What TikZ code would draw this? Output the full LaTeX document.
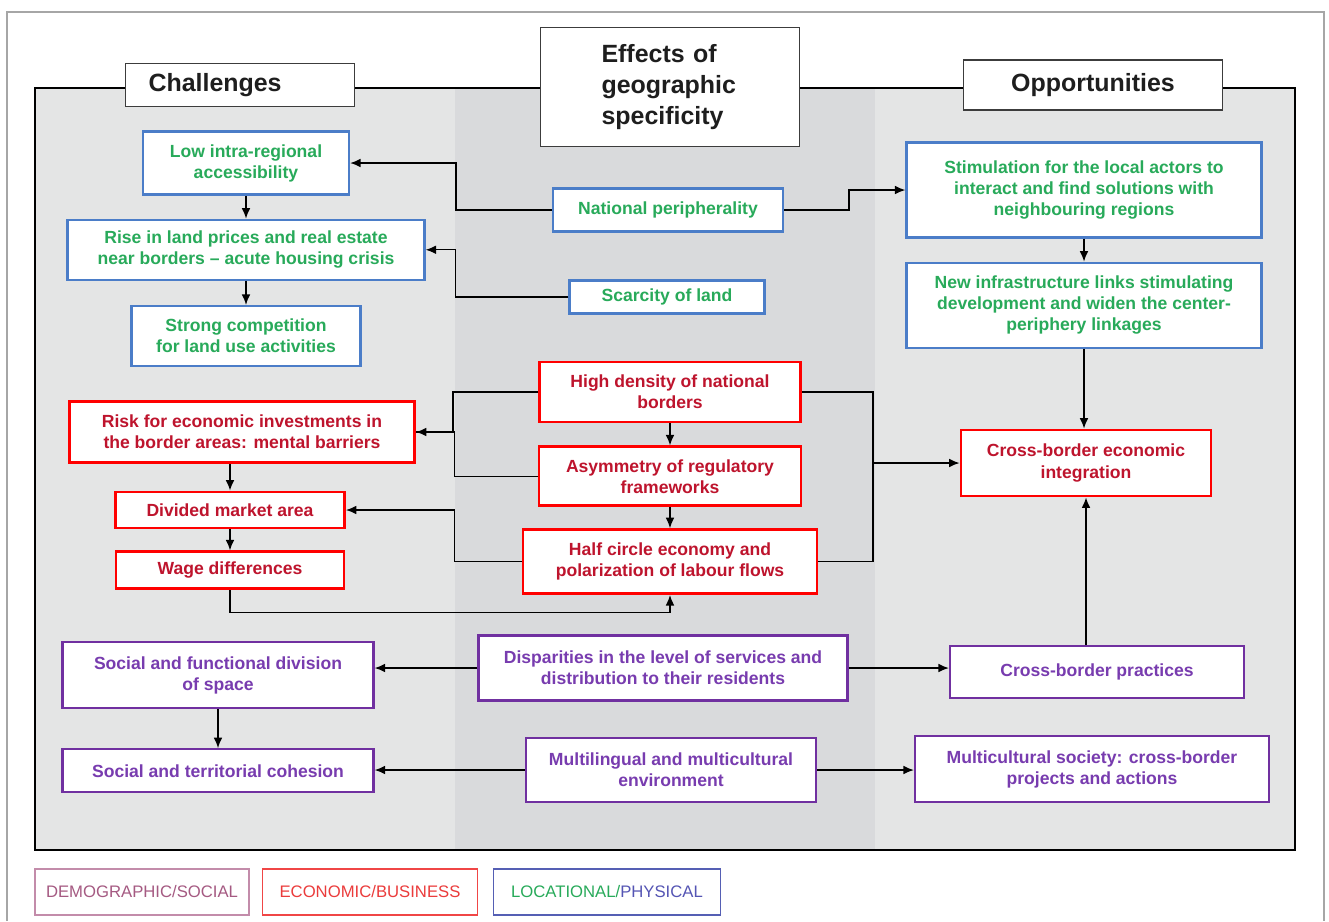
\documentclass[tikz,border=0pt]{standalone}
\usepackage{fontspec}
\setmainfont{Liberation Sans}
\usetikzlibrary{shapes,arrows.meta,positioning}
\definecolor{panel}{RGB}{228,229,229}
\definecolor{band}{RGB}{217,218,220}
\definecolor{hdrline}{RGB}{60,60,60}
\definecolor{hdrtext}{RGB}{30,30,30}
\definecolor{locline}{RGB}{75,125,200}
\definecolor{loctext}{RGB}{40,170,90}
\definecolor{ecoline}{RGB}{255,0,0}
\definecolor{ecotext}{RGB}{190,20,45}
\definecolor{demline}{RGB}{112,48,160}
\definecolor{demtext}{RGB}{120,60,175}
\definecolor{legdemline}{RGB}{195,140,170}
\definecolor{legdemtext}{RGB}{165,90,130}
\definecolor{legecoline}{RGB}{240,70,70}
\definecolor{legecotext}{RGB}{235,60,60}
\definecolor{leglocline}{RGB}{85,95,180}
\definecolor{legphys}{RGB}{85,85,180}
\newcommand{\boxfont}{\bfseries\fontsize{10}{12}\selectfont}
\tikzstyle{hdr}=[rectangle,draw=hdrline,line width=0.8pt,fill=white,text=hdrtext,font=\bfseries\fontsize{14.2}{17.6}\selectfont]
\tikzstyle{loc}=[rectangle,draw=locline,line width=1.3pt,fill=white,text=loctext,align=center,font=\boxfont]
\tikzstyle{eco}=[rectangle,draw=ecoline,line width=1.6pt,fill=white,text=ecotext,align=center,font=\boxfont]
\tikzstyle{dem}=[rectangle,draw=demline,line width=1.3pt,fill=white,text=demtext,align=center,font=\boxfont]
\tikzstyle{legbox}=[rectangle,line width=1pt,fill=white,minimum height=0.92cm,font=\fontsize{9.5}{11}\selectfont]
\tikzstyle{arr}=[-{Latex[length=6pt,width=5pt]},line width=0.8pt]
\tikzstyle{link}=[line width=0.8pt]

\begin{document}
\begin{tikzpicture}[x=0.02cm,y=-0.02cm]
\useasboundingbox (0,0) rectangle (1329,921);
% frames and columns
\draw[gray!70,line width=0.8pt] (7,921) -- (7,12) -- (1324,12) -- (1324,921);
\fill[panel] (35,88) rectangle (1295,850);
\fill[band] (455,88) rectangle (875,850);
\draw[line width=1.5pt] (35,88) rectangle (1295,850);

% column heads
\node (chal) [hdr,minimum height=0.86cm,text width=3.66cm,inner xsep=0.46cm,align=left] at (240,85) {Challenges};
\node (eff) [hdr,minimum height=2.38cm,text width=2.74cm,inner xsep=1.22cm,align=left] at (670,87) {Effects of\\geographic\\specificity};
\node (opp) [hdr,minimum width=5.18cm,minimum height=1cm] at (1093,85) {Opportunities};

% locational / physical
\node (low) [loc,minimum width=4.12cm,minimum height=1.26cm] at (246,163) {Low intra-regional\\accessibility};
\node (rise) [loc,minimum width=7.14cm,minimum height=1.2cm,below=0.46cm of low] {Rise in land prices and real estate\\near borders -- acute housing crisis};
\node (strong) [loc,minimum width=4.58cm,minimum height=1.2cm,below=0.48cm of rise] {Strong competition\\for land use activities};
\node (natper) [loc,minimum width=4.6cm,minimum height=0.86cm] at (668,210) {National peripherality};
\node (scarce) [loc,minimum width=3.9cm,minimum height=0.66cm] at (667,297) {Scarcity of land};
\node (stim) [loc,minimum width=7.1cm,minimum height=1.9cm] at (1084,190) {Stimulation for the local actors to\\interact and find solutions with\\neighbouring regions};
\node (newinf) [loc,minimum width=7.1cm,minimum height=1.7cm,below=0.46cm of stim] {New infrastructure links stimulating\\development and widen the center-\\periphery linkages};

% economic / business
\node (highd) [eco,minimum width=5.22cm,minimum height=1.2cm] at (670,392) {High density of national\\borders};
\node (asym) [eco,minimum width=5.24cm,minimum height=1.18cm,below=0.44cm of highd] {Asymmetry of regulatory\\frameworks};
\node (halfc) [eco,minimum width=5.88cm,minimum height=1.28cm,below=0.42cm of asym] {Half circle economy and\\polarization of labour flows};
\node (risk) [eco,minimum width=6.9cm,minimum height=1.22cm] at (242,432) {Risk for economic investments in\\the border areas: mental barriers};
\node (divided) [eco,minimum width=4.58cm,minimum height=0.72cm] at (230,510) {Divided market area};
\node (wage) [eco,minimum width=4.56cm,minimum height=0.74cm,below=0.42cm of divided] {Wage differences};
\node (cbei) [eco,minimum width=5cm,minimum height=1.32cm] at (1086,463) {Cross-border economic\\integration};

% demographic / social
\node (socfun) [dem,minimum width=6.22cm,minimum height=1.32cm] at (218,675) {Social and functional division\\of space};
\node (socter) [dem,minimum width=6.22cm,minimum height=0.86cm,below=0.78cm of socfun] {Social and territorial cohesion};
\node (disp) [dem,minimum width=7.38cm,minimum height=1.3cm] at (663,668) {Disparities in the level of services and\\distribution to their residents};
\node (multi) [dem,minimum width=5.8cm,minimum height=1.28cm] at (671,770) {Multilingual and multicultural\\environment};
\node (cbprac) [dem,minimum width=5.88cm,minimum height=1.04cm] at (1097,672) {Cross-border practices};
\node (multsoc) [dem,minimum width=7.08cm,minimum height=1.32cm] at (1092,769) {Multicultural society: cross-border\\projects and actions};

% legend
\node (legdem) [legbox,draw=legdemline,text=legdemtext,minimum width=4.28cm] at (142,892) {DEMOGRAPHIC/SOCIAL};
\node (legeco) [legbox,draw=legecoline,text=legecotext,minimum width=4.3cm] at (370,892) {ECONOMIC/BUSINESS};
\node (legloc) [legbox,draw=leglocline,minimum width=4.54cm] at (607,892) {{\color{loctext}LOCATIONAL/}{\color{legphys}PHYSICAL}};

% connectors
\draw [arr] (low.south) -- (rise.north);
\draw [arr] (rise.south) -- (strong.north);
\draw [arr] (natper.west) -- ++(-96,0) |- (low.east);
\draw [arr] (scarce.west) -- ++(-113,0) |- (rise.east);
\draw [arr] (natper.east) -- ++(65,0) |- (stim.west);
\draw [arr] (stim.south) -- (newinf.north);
\draw [arr] (newinf.south) -- (newinf.south |- cbei.north);
\draw [arr] (highd.south) -- (asym.north);
\draw [arr] (asym.south) -- (halfc.north);
\draw [arr] (highd.west) -- ++(-85,0) |- (risk.east);
\draw [link] (asym.west) -- ++(-83,0) |- (risk.east);
\draw [arr] (halfc.west) -- ++(-67,0) |- (divided.east);
\draw [arr] (risk.south -| divided.north) -- (divided.north);
\draw [arr] (divided.south) -- (wage.north);
\draw [arr] (wage.south) -- ++(0,22) -| (halfc.south);
\draw [link] (highd.east) -- ++(71,0) |- (halfc.east);
\draw [arr] (highd.east) ++(71,0) |- (cbei.west);
\draw [arr] (cbei.south |- cbprac.north) -- (cbei.south);
\draw [arr] (disp.west) -- (socfun.east |- disp.west);
\draw [arr] (disp.east) -- (cbprac.west |- disp.east);
\draw [arr] (socfun.south) -- (socter.north);
\draw [arr] (multi.west) -- (socter.east |- multi.west);
\draw [arr] (multi.east) -- (multsoc.west |- multi.east);
\end{tikzpicture}
\end{document}
